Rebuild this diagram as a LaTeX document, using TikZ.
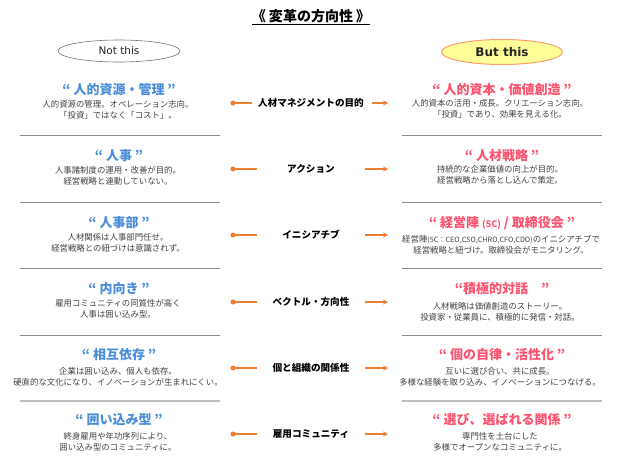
\documentclass[tikz,border=0pt]{standalone}
\usepackage{fontspec}
\setmainfont{Noto Sans CJK JP}
\newfontfamily\latinfont{DejaVu Sans}
\usetikzlibrary{arrows.meta,shapes.geometric}
\definecolor{tblue}{RGB}{74,141,218}
\definecolor{tpink}{RGB}{255,82,110}
\definecolor{torange}{RGB}{237,125,49}
\definecolor{tgray}{RGB}{64,64,64}
\definecolor{sepgray}{RGB}{140,140,140}
\definecolor{ovalyellow}{RGB}{255,255,153}
\definecolor{ovalorange}{RGB}{250,160,110}
\begin{document}
\begin{tikzpicture}[x=1pt,y=-1pt,
  ltitle/.style={text=tblue,font=\fontsize{13}{15}\selectfont\bfseries,inner sep=0pt},
  rtitle/.style={text=tpink,font=\fontsize{13}{15}\selectfont\bfseries,inner sep=0pt},
  desc/.style={text=tgray,font=\fontsize{8.4}{11}\selectfont,align=center,inner sep=0pt},
  mid/.style={text=black,font=\fontsize{9.6}{12}\selectfont\bfseries,inner sep=0pt},
  sep/.style={draw=sepgray,line width=1pt},
  lsep/.style={draw=black!25,line width=1.8pt},
  dotline/.style={draw=torange,line width=1.2pt},
  arr/.style={draw=torange,line width=1.2pt,-{Stealth[length=5pt,width=5pt]}},
  dotc/.style={circle,fill=torange,inner sep=0pt,minimum size=5pt}]
\useasboundingbox (0,0) rectangle (636,466);

% title
\node[font=\fontsize{14}{16}\selectfont\bfseries,inner sep=0pt] (title) at (311,17) {\underline{《 変革の方向性 》}};

% header ovals
\node[ellipse,draw=black!55,line width=0.6pt,minimum width=122pt,minimum height=22pt,inner sep=0pt,
      font=\latinfont\fontsize{10.5}{12}\selectfont,text=black!85] (notthis) at (119,51) {Not this};
\node[ellipse,draw=ovalorange,fill=ovalyellow,line width=1pt,minimum width=121pt,minimum height=25pt,inner sep=0pt,
      font=\latinfont\fontsize{12}{14}\selectfont\bfseries,text=black!85] (butthis) at (502,52) {But this};

% separators
\foreach \y/\s in {135/sep,202/sep,268/sep,335/sep,401/lsep}{
  \draw[\s] (20,\y) -- (220,\y);
  \draw[\s] (402,\y) -- (602,\y);
}

% left column
\node[ltitle] (l1) at (119,90) {“ 人的資源・管理 ”};
\node[desc] (ld1) at (118,110) {人的資源の管理。オペレーション志向。\\「投資」ではなく「コスト」。};
\node[ltitle] (l2) at (119,156) {“ 人事 ”};
\node[desc] (ld2) at (118,176) {人事諸制度の運用・改善が目的。\\経営戦略と連動していない。};
\node[ltitle] (l3) at (119,223) {“ 人事部 ”};
\node[desc] (ld3) at (118,243) {人材関係は人事部門任せ。\\経営戦略との紐づけは意識されず。};
\node[ltitle] (l4) at (119,289) {“ 内向き ”};
\node[desc] (ld4) at (118,309) {雇用コミュニティの同質性が高く\\人事は囲い込み型。};
\node[ltitle] (l5) at (119,355) {“ 相互依存 ”};
\node[desc] (ld5) at (118,377) {企業は囲い込み、個人も依存。\\硬直的な文化になり、イノベーションが生まれにくい。};
\node[ltitle] (l6) at (119,420) {“ 囲い込み型 ”};
\node[desc] (ld6) at (118,442) {終身雇用や年功序列により、\\囲い込み型のコミュニティに。};

% right column
\node[rtitle] (r1) at (502,90) {“ 人的資本・価値創造 ”};
\node[desc] (rd1) at (500,109) {人的資本の活用・成長。クリエーション志向。\\「投資」であり、効果を見える化。};
\node[rtitle] (r2) at (502,156) {“ 人材戦略 ”};
\node[desc] (rd2) at (500,175) {持続的な企業価値の向上が目的。\\経営戦略から落とし込んで策定。};
\node[rtitle] (r3) at (502,223) {“ 経営陣 {\fontsize{9}{11}\selectfont (5C)} / 取締役会 ”};
\node[desc] (rd3) at (501,245) {経営陣{\fontsize{7.2}{9}\selectfont (5C：CEO,CSO,CHRO,CFO,CDO)}のイニシアチブで\\経営戦略と紐づけ。取締役会がモニタリング。};
\node[rtitle] (r4) at (502,289) {“積極的対話　”};
\node[desc] (rd4) at (500,312) {人材戦略は価値創造のストーリー。\\投資家・従業員に、積極的に発信・対話。};
\node[rtitle] (r5) at (502,355) {“ 個の自律・活性化 ”};
\node[desc] (rd5) at (500,377) {互いに選び合い、共に成長。\\多様な経験を取り込み、イノベーションにつなげる。};
\node[rtitle] (r6) at (502,420) {“ 選び、選ばれる関係 ”};
\node[desc] (rd6) at (500,442) {専門性を土台にした\\多様でオープンなコミュニティに。};

% middle labels and connectors
\foreach \i/\y/\t/\a/\b in {
  1/103/人材マネジメントの目的/252/372,
  2/169/アクション/257/365,
  3/235/イニシアチブ/257/365,
  4/302/ベクトル・方向性/257/365,
  5/368/個と組織の関係性/257/365,
  6/434/雇用コミュニティ/257/365}{
  \node[mid] (m\i) at (311,\y) {\t};
  \node[dotc] (dot\i) at (233,\y) {};
  \coordinate (le\i) at (\a,\y);
  \coordinate (rs\i) at (\b,\y);
  \coordinate (re\i) at (388,\y);
  \draw[dotline] (dot\i.center) -- (le\i);
  \draw[arr] (rs\i) -- (re\i);
}
\end{tikzpicture}
\end{document}
